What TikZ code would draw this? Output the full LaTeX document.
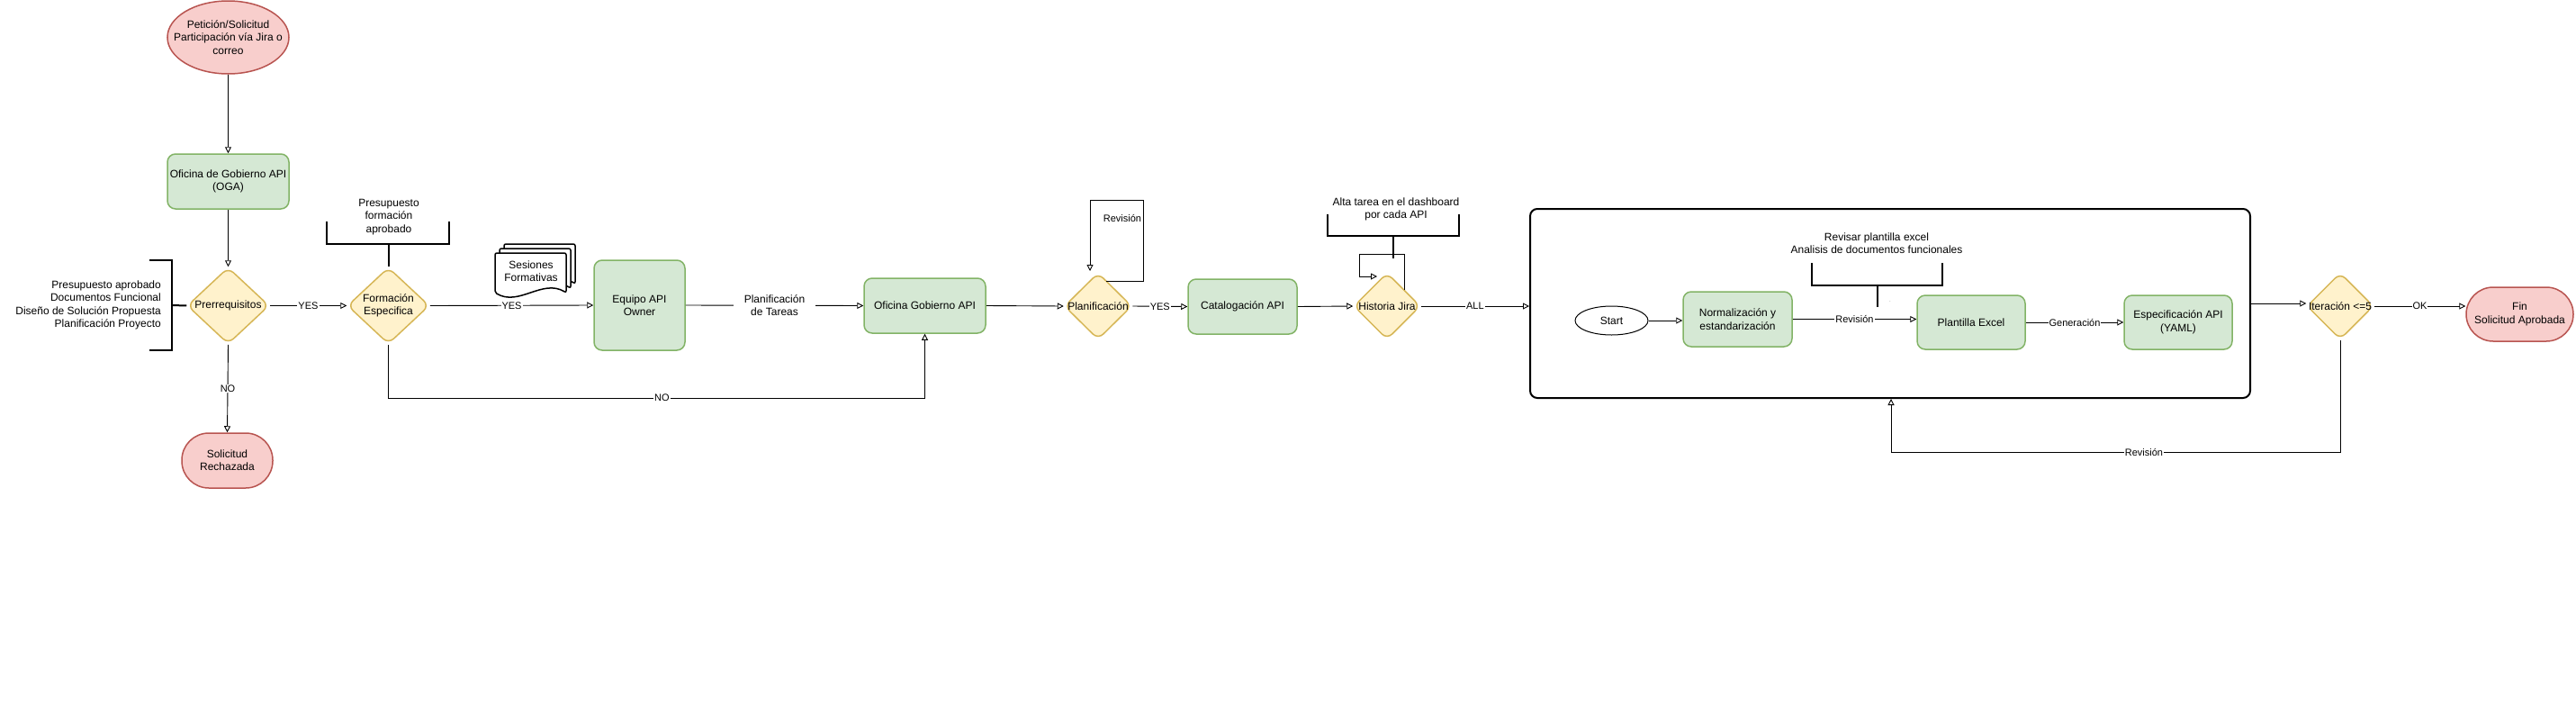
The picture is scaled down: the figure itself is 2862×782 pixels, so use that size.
\documentclass[tikz,border=0pt]{standalone}
\usepackage{fontspec}
\setmainfont{Liberation Sans}
\usetikzlibrary{shapes.geometric,arrows.meta,calc}
\definecolor{pinkF}{HTML}{F8CECC}
\definecolor{pinkD}{HTML}{B85450}
\definecolor{greenF}{HTML}{D5E8D4}
\definecolor{greenD}{HTML}{82B366}
\definecolor{yelF}{HTML}{FFF2CC}
\definecolor{yelD}{HTML}{D6B656}
\begin{document}
\begin{tikzpicture}[x=1pt,y=-1pt,
  every node/.style={font=\fontsize{12}{14.4}\selectfont, align=center, text=black},
  proc/.style={rectangle, rounded corners=9pt, draw=greenD, fill=greenF, line width=1.5pt, inner sep=0pt},
  term/.style={rectangle, rounded corners=30pt, draw=pinkD, fill=pinkF, line width=1.5pt, inner sep=0pt},
  decis/.style={diamond, rounded corners=8pt, draw=yelD, fill=yelF, line width=1.5pt, inner sep=-40pt},
  flow/.style={draw=black, line width=0.9pt, -{Triangle[open,length=7pt,width=7pt]}},
  elab/.style={font=\fontsize{11}{13}\selectfont, fill=white, inner sep=1pt},
  brk/.style={draw=black, line width=2pt},
  note/.style={font=\fontsize{12}{14.4}\selectfont, inner sep=0pt},
  docsh/.style={draw=black, line width=1.5pt, fill=white, rounded corners=2pt},
]
\useasboundingbox (0,0) rectangle (2862,782);

% ---------- nodes ----------
\node[ellipse, draw=pinkD, fill=pinkF, line width=1.5pt, inner sep=-30pt, minimum width=135pt, minimum height=81pt] (pet) at (253.5,41.5) {Petición/Solicitud\\Participación vía Jira o\\correo};
\node[proc, minimum width=135pt, minimum height=61pt] (oga) at (253.5,201.5) {Oficina de Gobierno API\\(OGA)};
\node[decis, minimum width=91pt, minimum height=85pt] (pre) at (253.5,339.5) {Prerrequisitos};
\node[term, minimum width=101pt, minimum height=61pt] (rech) at (252.5,511.5) {Solicitud\\Rechazada};
\node[decis, minimum width=91pt, minimum height=85pt] (form) at (431.5,339.5) {Formación\\Especifica};
\node[proc, minimum width=101pt, minimum height=100pt] (equipo) at (710.5,339) {Equipo API\\Owner};
\node[proc, minimum width=135pt, minimum height=61pt] (ofi) at (1027.5,339.5) {Oficina Gobierno API};
\node[decis, minimum width=75pt, minimum height=74pt] (plan) at (1220,340) {Planificación};
\node[proc, minimum width=121pt, minimum height=61pt] (cat) at (1380.5,340.5) {Catalogación API};
\node[decis, minimum width=74pt, minimum height=74pt] (hj) at (1541,340) {Historia Jira};

\node[draw=black, line width=2pt, rounded corners=8pt, minimum width=800pt, minimum height=210pt, inner sep=0pt] (big) at (2100,337) {};
\node[ellipse, draw=black, line width=1pt, fill=white, inner sep=-20pt, minimum width=81pt, minimum height=32pt] (start) at (1790.5,356) {Start};
\node[proc, minimum width=121pt, minimum height=61pt] (norm) at (1930.5,354.5) {Normalización y\\estandarización};
\node[proc, minimum width=120pt, minimum height=60pt] (plant) at (2190,358) {Plantilla Excel};
\node[proc, minimum width=120pt, minimum height=60pt] (spec) at (2420,358) {Especificación API\\(YAML)};

\node[decis, minimum width=74pt, minimum height=74pt] (iter) at (2600,340) {Iteración <=5};
\node[term, minimum width=119pt, minimum height=60pt] (fin) at (2799.5,349) {Fin\\Solicitud Aprobada};

% ---------- brackets / annotations ----------
\node[note, anchor=east, align=right] (b1t) at (179,339) {Presupuesto aprobado\\Documentos Funcional\\Diseño de Solución Propuesta\\Planificación Proyecto};
\draw[brk] (166,289) -- (191,289) -- (191,389) -- (166,389);
\draw[brk] (191,339) -- (pre.west);

\node[note] (b2t) at (432,241) {Presupuesto\\formación\\aprobado};
\draw[brk] (363,246) -- (363,271) -- (499,271) -- (499,246);
\draw[brk] (431.5,271) -- (form.north);

\node[note] (b3t) at (1551,232.5) {Alta tarea en el dashboard\\por cada API};
\draw[brk] (1475,238) -- (1475,262) -- (1621,262) -- (1621,238);
\draw[brk] (1548,262) -- (1548,287);

\node[note] (b4t) at (2085,270.5) {Revisar plantilla excel\\Analisis de documentos funcionales};
\draw[brk] (2013,292) -- (2013,317) -- (2158,317) -- (2158,292);
\draw[brk] (2086,317) -- (2086,341);
\node[font=\fontsize{6}{6}\selectfont, text=gray, inner sep=0pt] (dot) at (2100,335) {.};

% ---------- Sesiones Formativas (multi document) ----------
\draw[docsh] (560,325) -- (560,271) -- (639,271) -- (639,315) .. controls (612.7,299) and (586.3,331) .. (560,315);
\draw[docsh] (555,325) -- (555,276) -- (634,276) -- (634,320) .. controls (607.7,304) and (581.3,336) .. (555,320) -- cycle;
\draw[docsh] (550,281) -- (629,281) -- (629,325) .. controls (602.7,309) and (576.3,341) .. (550,325) -- cycle;
\node (ses) at (590,301) {Sesiones\\Formativas};

% ---------- connectors ----------
\draw[flow] (pet.south) -- (oga.north);
\draw[flow] (oga.south) -- (pre.north);
\draw[flow] (pre.south) -- node[elab]{NO} (rech.north);
\draw[flow] (pre.east) -- node[elab]{YES} (form.west);
\draw[flow] (form.east) -- node[elab]{YES} (equipo.west);
\coordinate (noA) at (431.5,442);
\coordinate (noB) at (1027.5,442);
\draw[flow] (form.south) -- (noA) -- node[elab,pos=0.51]{NO} (noB) -- (ofi.south);
\draw[flow] (equipo.east) -- node[elab, font=\fontsize{12}{14.4}\selectfont, inner xsep=12pt]{Planificación\\de Tareas} (ofi.west);
\draw[flow] (ofi.east) -- (plan.west);

\coordinate (pl1) at (1229,312);
\coordinate (pl2) at (1211,301);
\draw[flow] (pl1) -- (1270,312) -- (1270,222) -- (1211,222) -- (pl2);
\node[font=\fontsize{11}{13}\selectfont, inner sep=0pt] (revl) at (1247,242) {Revisión};

\draw[flow] (plan.east) -- node[elab]{YES} (cat.west);
\draw[flow] (cat.east) -- (hj.west);

\coordinate (hj1) at (1560,322);
\coordinate (hj2) at (1530,307);
\draw[flow] (hj1) -- (1560,282) -- (1510,282) -- (1510,307) -- (hj2);

\draw[flow] (hj.east) -- node[elab]{ALL} (hj.east -| big.west);

\draw[flow] (start.east) -- (start.east -| norm.west);
\draw[flow] (norm.east) -- node[elab]{Revisión} (norm.east -| plant.west);
\draw[flow] (plant.east) -- node[elab]{Generación} (spec.west);

\draw[flow] (big.east) -- (big.east -| iter.west);
\draw[flow] (iter.east) -- node[elab]{OK} (iter.east -| fin.west);

\coordinate (rv1) at (2600,502);
\coordinate (rv2) at (2101,502);
\draw[flow] (iter.south) -- (rv1) -- node[elab,pos=0.437]{Revisión} (rv2) -- (rv2 |- big.south);
\end{tikzpicture}
\end{document}
